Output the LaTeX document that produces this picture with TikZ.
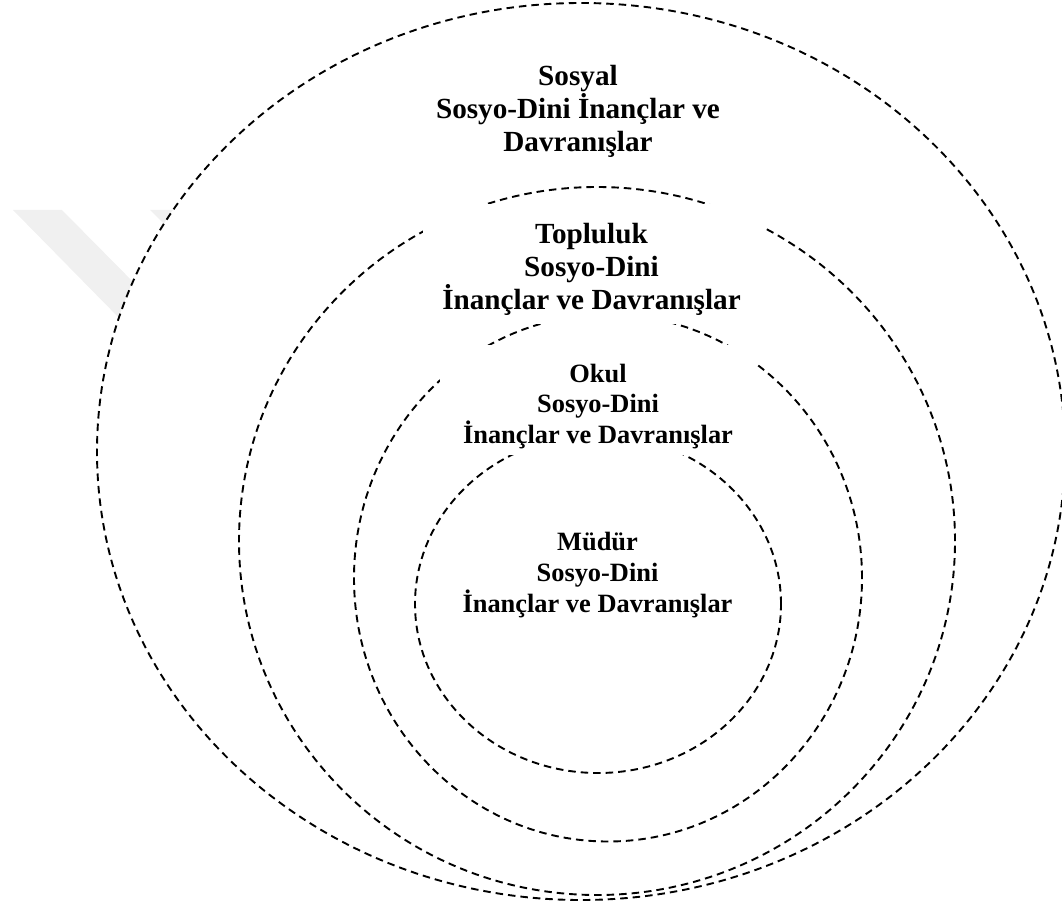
\documentclass[tikz,border=0pt]{standalone}
\usepackage{fontspec}
\setmainfont{Liberation Serif}
\usetikzlibrary{shapes.geometric}
\begin{document}
\begin{tikzpicture}[x=1pt,y=-1pt,
  ring/.style={ellipse, draw=black, line width=1.9pt, dash pattern=on 7.5pt off 5pt, inner sep=0pt, outer sep=0pt},
  mask/.style={rectangle, fill=white, inner sep=0pt, outer sep=0pt},
  bigtxt/.style={font=\bfseries\fontsize{29.2}{33}\selectfont, align=center, inner sep=0pt},
  smalltxt/.style={font=\bfseries\fontsize{26.4}{30.7}\selectfont, align=center, inner sep=0pt},
  wm/.style={fill=black!6}]
\useasboundingbox (0,0) rectangle (1062,909);
% faint watermark
\fill[wm] (13,210) -- (62,210) -- (230,380) -- (180,380) -- cycle;
\fill[wm] (150,210) -- (200,210) -- (260,270) -- (210,270) -- cycle;
% rings
\node[ring, fill=white, minimum width=968pt, minimum height=897pt] (sosyal) at (581,451.5) {};
\node[ring, minimum width=716pt, minimum height=708pt] (topluluk) at (597,541) {};
\node[ring, minimum width=508pt, minimum height=527pt] (okul) at (608,578) {};
\node[ring, minimum width=366pt, minimum height=338pt] (mudur) at (598,604) {};
% masks behind labels
\node[mask, minimum width=340pt, minimum height=120pt] (m2) at (593,264) {};
\node[mask, minimum width=317pt, minimum height=110pt] (m3) at (598.5,400) {};
% labels
\node[bigtxt] (t1) at (578,111.8) {Sosyal\\Sosyo-Dini İnançlar ve\\Davranışlar};
\node[bigtxt] (t2) at (591.5,269.3) {Topluluk\\Sosyo-Dini\\İnançlar ve Davranışlar};
\node[smalltxt] (t3) at (598,406.5) {Okul\\Sosyo-Dini\\İnançlar ve Davranışlar};
\node[smalltxt] (t4) at (597.5,575) {Müdür\\Sosyo-Dini\\İnançlar ve Davranışlar};
\end{tikzpicture}
\end{document}
